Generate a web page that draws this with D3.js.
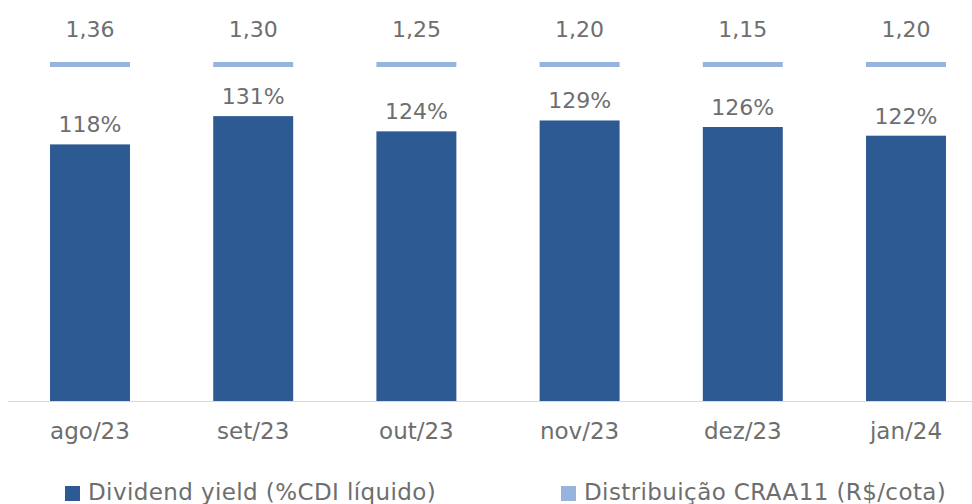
<!DOCTYPE html>
<html>
<head>
<meta charset="utf-8">
<script src="https://cdn.jsdelivr.net/npm/d3@7"></script>
<style>
  body { margin: 0; background: #fff; overflow: hidden; }
  text { font-family: "DejaVu Sans", "Noto Sans", sans-serif; fill: #6e6e6e; }
</style>
</head>
<body>
<script>
var months = ["ago/23", "set/23", "out/23", "nov/23", "dez/23", "jan/24"];
var yieldPct = [118, 131, 124, 129, 126, 122];
var distribuicao = [1.36, 1.30, 1.25, 1.20, 1.15, 1.20];

var W = 972, H = 504;
var base = 401;

var svg = d3.select("body").append("svg")
    .attr("width", W)
    .attr("height", H);

// band scale runs past the right edge, like the cropped original
var x = d3.scaleBand()
    .domain(months)
    .range([8.4, 987.6])
    .paddingInner(0.51)
    .paddingOuter(0.255);

var y = d3.scaleLinear()
    .domain([0, 184.4])
    .range([base, 0]);

// distribution markers sit on their own axis at a fixed height
var y2 = d3.scaleLinear()
    .domain([0, 1])
    .range([64.5, 64.5]);

// bars
svg.append("g").selectAll("rect")
    .data(yieldPct)
    .enter()
    .append("rect")
        .attr("x", (d, i) => x(months[i]))
        .attr("y", d => y(d))
        .attr("width", x.bandwidth())
        .attr("height", d => base - y(d))
        .attr("fill", "#2e5a94");

svg.append("g").selectAll("text")
    .data(yieldPct)
    .enter()
    .append("text")
        .attr("x", (d, i) => x(months[i]) + x.bandwidth() / 2)
        .attr("y", d => y(d) - 12)
        .attr("text-anchor", "middle")
        .style("font-size", "22px")
        .text(d => d + "%");

// distribution dashes
svg.append("g").selectAll("line")
    .data(distribuicao)
    .enter()
    .append("line")
        .attr("x1", (d, i) => x(months[i]))
        .attr("x2", (d, i) => x(months[i]) + x.bandwidth())
        .attr("y1", y2(1))
        .attr("y2", y2(1))
        .attr("stroke", "#97b4de")
        .attr("stroke-width", 5);

svg.append("g").selectAll("text")
    .data(distribuicao)
    .enter()
    .append("text")
        .attr("x", (d, i) => x(months[i]) + x.bandwidth() / 2)
        .attr("y", 37)
        .attr("text-anchor", "middle")
        .style("font-size", "22px")
        .text(d => d.toFixed(2).replace(".", ","));

// x axis
var xAxis = svg.append("g")
    .attr("transform", "translate(0," + base + ")")
    .call(d3.axisBottom(x).tickSize(0).tickPadding(22));
xAxis.select(".domain").attr("stroke", "#d9d9d9").attr("d", "M8,0.5H972");
xAxis.selectAll("text")
    .style("font-size", "23px")
    .style("font-family", "'DejaVu Sans', 'Noto Sans', sans-serif")
    .attr("fill", "#6e6e6e");

// legend
var legend = [
    {label: "Dividend yield (%CDI líquido)", color: "#2e5a94", x: 65},
    {label: "Distribuição CRAA11 (R$/cota)", color: "#97b4de", x: 561}
];
var lg = svg.append("g").selectAll("g")
    .data(legend)
    .enter()
    .append("g")
        .attr("transform", d => "translate(" + d.x + ",486)");
lg.append("rect")
    .attr("width", 15)
    .attr("height", 15)
    .attr("fill", d => d.color);
lg.append("text")
    .attr("x", 23)
    .attr("y", 14)
    .style("font-size", "23px")
    .style("letter-spacing", "0.4px")
    .text(d => d.label);
</script>
</body>
</html>
